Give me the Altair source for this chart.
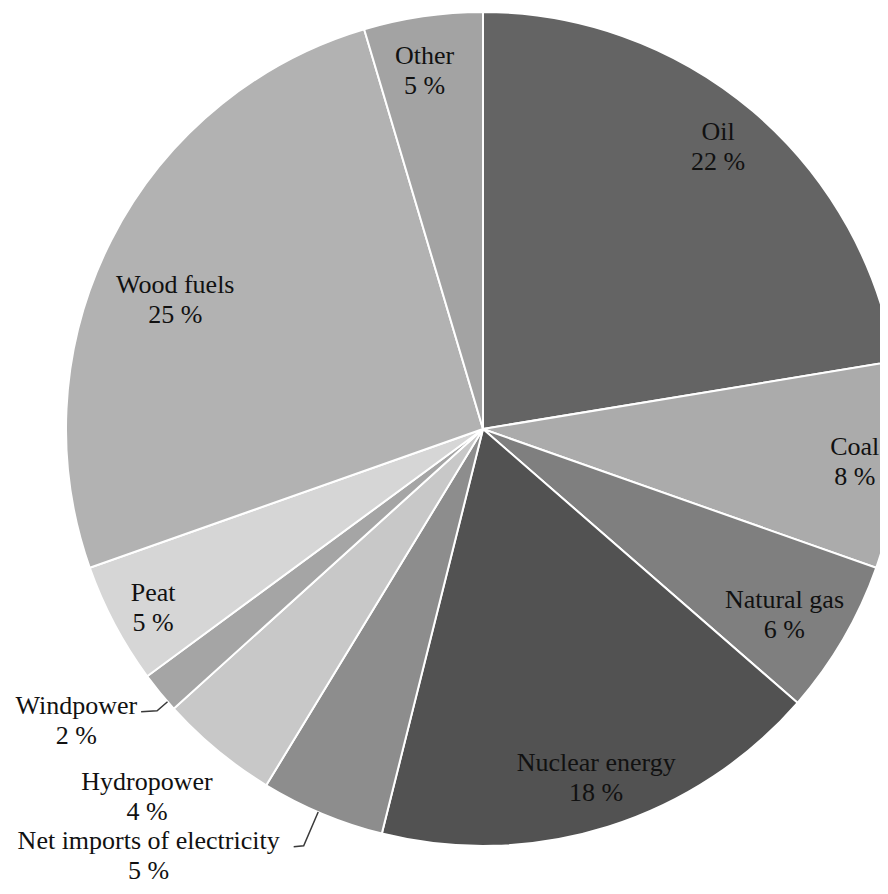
import math
import altair as alt
import pandas as pd

# ---- data ----
names = ["Oil", "Coal", "Natural gas", "Nuclear energy", "Net imports of electricity",
         "Hydropower", "Windpower", "Peat", "Wood fuels", "Other"]
shares = [22.4, 8.0, 6.0, 17.5, 4.8, 4.6, 1.6, 4.7, 25.8, 4.6]
pct_labels = ["22 %", "8 %", "6 %", "18 %", "5 %", "4 %", "2 %", "5 %", "25 %", "5 %"]

# ---- styling ----
colors = ["#646464", "#ababab", "#7f7f7f", "#525252", "#8d8d8d",
          "#c8c8c8", "#a5a5a5", "#d6d6d6", "#b2b2b2", "#a3a3a3"]
CX, CY, R = 475, 421, 417
LH = 30
# label placement: (radius as fraction of R, angle offset in degrees from slice middle)
label_r = [0.88, 0.895, 0.85, 0.88, 1.300, 1.195, 1.20, 0.90, 0.80, 0.87]
label_da = [-0.5, 0.0, 1.5, -0.5, 15.4, 2.8, 3.6, -0.6, -4.3, -1.0]
# leader lines: slice index -> (elbow radius frac, angle offset, stub length)
leaders = {4: (1.088, 0.6, 10), 6: (1.033, -1.6, 16)}

total = sum(shares)
mids = []
acc = 0.0
for v in shares:
    mids.append((acc + v / 2) / total * 360.0)
    acc += v

df = pd.DataFrame({"name": names, "value": shares, "idx": list(range(len(names)))})

lab_rows = []
for i, n in enumerate(names):
    a = math.radians(mids[i] + label_da[i])
    r = label_r[i] * R
    lab_rows.append({"label": f"{n}\n{pct_labels[i]}",
                     "px": CX + r * math.sin(a), "py": CY - r * math.cos(a)})
lab_df = pd.DataFrame(lab_rows)

lead_rows = []
for i, (er, da, stub) in leaders.items():
    a = math.radians(mids[i] + da)
    x0, y0 = CX + R * math.sin(a), CY - R * math.cos(a)
    x1, y1 = CX + er * R * math.sin(a), CY - er * R * math.cos(a)
    lead_rows += [{"g": i, "o": 0, "px": x0, "py": y0},
                  {"g": i, "o": 1, "px": x1, "py": y1},
                  {"g": i, "o": 2, "px": x1 - stub, "py": y1 + 1}]
lead_df = pd.DataFrame(lead_rows)

shadow = alt.Chart(pd.DataFrame({"v": [1]})).mark_arc(
    outerRadius=R + 2, color="#bdbdbd", opacity=0.6
).encode(theta=alt.Theta("v:Q"), x=alt.value(CX), y=alt.value(CY + 2))

pie = alt.Chart(df).mark_arc(outerRadius=R, stroke="white", strokeWidth=2).encode(
    theta=alt.Theta("value:Q", stack=True),
    color=alt.Color("name:N", scale=alt.Scale(domain=names, range=colors), legend=None),
    order=alt.Order("idx:Q"),
    x=alt.value(CX), y=alt.value(CY),
)

labels = alt.Chart(lab_df).mark_text(
    font="Liberation Serif", fontSize=26, lineHeight=LH, lineBreak="\n",
    align="center", baseline="middle", dy=-LH / 2, color="#111111"
).encode(
    x=alt.X("px:Q", scale=None), y=alt.Y("py:Q", scale=None), text="label:N"
)

lead = alt.Chart(lead_df).mark_line(color="#3a3a3a", strokeWidth=1.5).encode(
    x=alt.X("px:Q", scale=None), y=alt.Y("py:Q", scale=None),
    detail="g:N", order="o:Q"
)

chart = alt.layer(shadow, pie, lead, labels).properties(
    width=872, height=878, padding=0,
    autosize=alt.AutoSizeParams(type="none")
).configure_view(stroke=None)

chart.save("out.html", embed_options={"renderer": "svg", "actions": False})
